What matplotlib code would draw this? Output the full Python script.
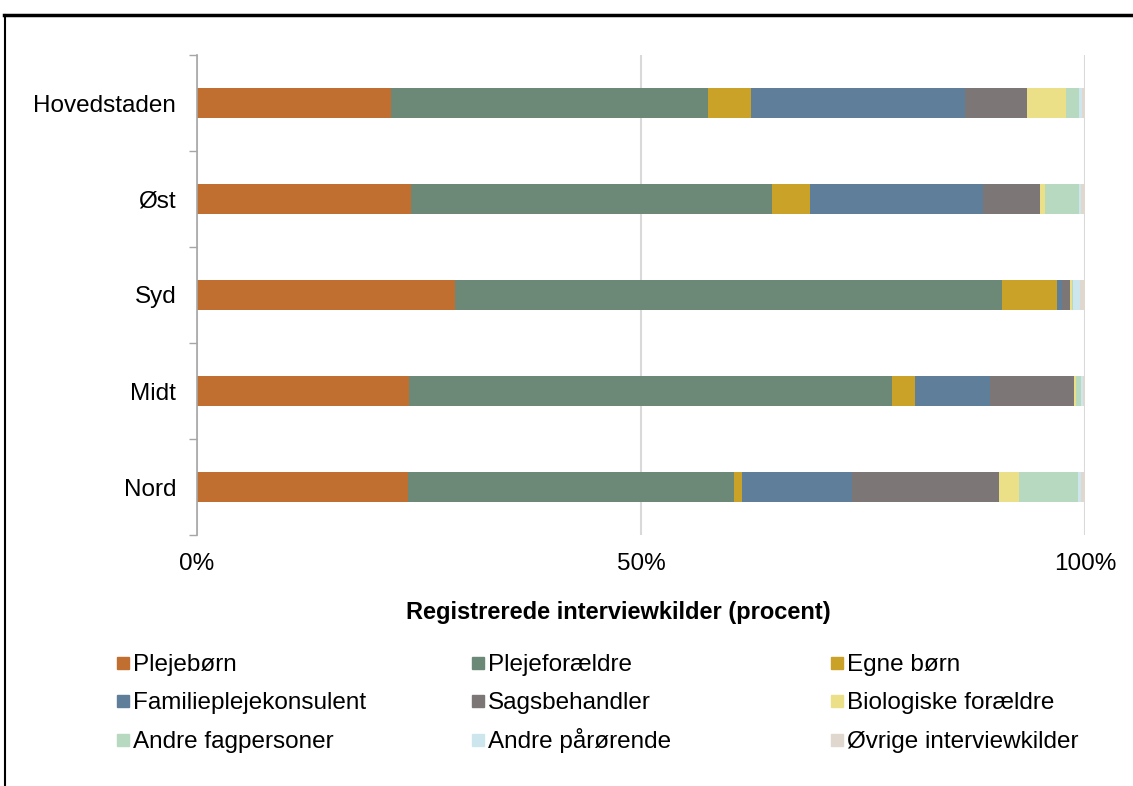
import numpy as np
import matplotlib.pyplot as plt
from matplotlib.lines import Line2D
from matplotlib.patches import Rectangle

plt.rcParams['font.family'] = ['Liberation Sans', 'DejaVu Sans']

regioner = ["Hovedstaden", "Øst", "Syd", "Midt", "Nord"]
kilder = ["Plejebørn", "Plejeforældre", "Egne børn", "Familieplejekonsulent",
          "Sagsbehandler", "Biologiske forældre", "Andre fagpersoner",
          "Andre pårørende", "Øvrige interviewkilder"]
farver = ["#C06F30", "#6C8977", "#C9A227", "#5F7E9A", "#7D7676",
          "#EBE088", "#B7D9C0", "#CDE6EE", "#E0D8CE"]

# procent pr. region, i samme raekkefoelge som kilder
plejeboern = [21.8, 24.2, 29.1, 23.9, 23.8]
plejeforaeldre = [35.8, 40.7, 61.7, 54.4, 36.7]
egne_boern = [4.8, 4.3, 6.1, 2.5, 0.9]
familiepleje = [24.1, 19.5, 0.6, 8.5, 12.4]
sagsbehandler = [7.0, 6.4, 0.9, 9.5, 16.6]
biologiske = [4.4, 0.6, 0.2, 0.2, 2.3]
andre_fag = [1.4, 3.8, 0.1, 0.6, 6.6]
andre_paar = [0.4, 0.2, 0.8, 0.2, 0.3]
oevrige = [0.3, 0.5, 0.6, 0.2, 0.5]

data = np.array([plejeboern, plejeforaeldre, egne_boern, familiepleje, sagsbehandler,
                 biologiske, andre_fag, andre_paar, oevrige])
data = data / data.sum(axis=0) * 100

W, H = 1133, 786
fig = plt.figure(figsize=(W/100, H/100), dpi=100)
ax = fig.add_axes([197/W, 1-535/H, 888/W, 480/H])

y = np.arange(len(regioner))
venstre = np.zeros(len(regioner))
for i in range(len(kilder)):
    ax.barh(y, data[i], left=venstre, height=0.32, color=farver[i], zorder=3)
    venstre += data[i]

ax.set_xlim(0, 100)
ax.set_ylim(4.5, -0.5)
ax.set_xticks([0, 50, 100])
ax.set_xticklabels(["0%", "50%", "100%"], fontsize=17.5)
ax.tick_params(axis='x', length=0, pad=13)
ax.set_yticks(y)
ax.set_yticklabels(regioner, fontsize=17.5)
ax.tick_params(axis='y', length=0, pad=15)
ax.set_yticks(np.arange(-0.5, 5, 1), minor=True)
ax.tick_params(axis='y', which='minor', length=6, color='#A6A6A6', width=1)
ax.grid(axis='x', color='#D9D9D9', lw=1.5, zorder=0)
for s in ['top', 'right', 'bottom']:
    ax.spines[s].set_visible(False)
ax.spines['left'].set_color('#A6A6A6')
ax.spines['left'].set_linewidth(1.2)
ax.spines['left'].set_zorder(4)

fig.text(618/W, 1-613/H, "Registrerede interviewkilder (procent)", fontsize=17,
         fontweight='bold', ha='center', va='center')

# forklaring, tre kolonner udfyldt raekkevis
kol_x = [117, 472, 831]
raek_y = [663, 701, 740]
for i, navn in enumerate(kilder):
    px = kol_x[i % 3]
    py = raek_y[i // 3]
    fig.add_artist(Rectangle((px/W, 1-(py+6)/H), 12/W, 12/H, color=farver[i],
                             transform=fig.transFigure))
    fig.text((px+16)/W, 1-(py+8)/H, navn, fontsize=17.5, ha='left', va='baseline')

# ramme
fig.add_artist(Line2D([4/W, 1], [1-15/H, 1-15/H], color='black', lw=2.5,
                      transform=fig.transFigure))
fig.add_artist(Line2D([5/W, 5/W], [1-15/H, 0], color='black', lw=1.5,
                      transform=fig.transFigure))

plt.savefig("out.png", dpi=100)
